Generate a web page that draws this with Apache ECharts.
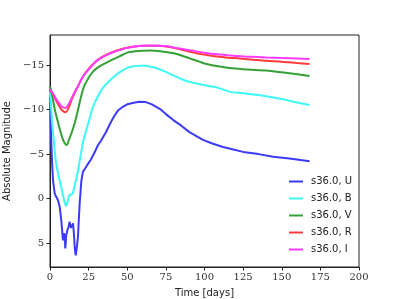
<!DOCTYPE html>
<html><head><meta charset="utf-8">
<script src="https://cdn.jsdelivr.net/npm/echarts@6/dist/echarts.min.js"></script>
<style>html,body{margin:0;padding:0;background:#fff}#c{width:399px;height:299px}</style>
</head><body><div id="c"></div>
<script>
var seriesNames = ['s36.0, U','s36.0, B','s36.0, V','s36.0, R','s36.0, I'];
var xTicks = [0,25,50,75,100,125,150,175,200];
var yTicks = [-15,-10,-5,0,5];

var daysU = [0,0.5,1,1.5,2,3,4,5.2,6.3,7.3,8.4,9,9.5,9.9,10.5,11.2,12,12.7,13.5,14.2,14.9,15.5,16,16.6,17.3,18.1,18.7,19.2,20.3,21.3,22.4,23.5,24.6,26.5,28.9,31,33,36,39.7,42,44,47.4,50,55,58,62,66,71,75,80,85,90,95,99,105,112,118,125,135,144.5,155,168];
var magU = [-12.0,-8.5,-5.5,-3.5,-2.0,-0.6,-0.2,0.2,0.95,2.45,4.7,3.9,4.2,5.6,4.2,3.6,3.2,2.6,3.3,3.2,2.8,4.0,5.5,6.4,5.6,4.3,2.2,0.56,-2.0,-3.0,-3.3,-3.5,-3.9,-4.4,-5.2,-6.0,-6.5,-7.4,-8.7,-9.4,-9.9,-10.35,-10.6,-10.8,-10.9,-10.85,-10.6,-10.1,-9.5,-8.8,-8.2,-7.5,-7.0,-6.6,-6.2,-5.8,-5.55,-5.25,-5.0,-4.7,-4.5,-4.2];

var daysB = [0,1,2,3,4,5.5,7,8.5,10.4,11.5,12.7,14.5,16,18,19.4,21.6,24.8,28,31.3,34.5,40,45,50,55,58.3,62,66,70,75,80,85,90,95,100,105,110,116.5,125,138,150,160,168];
var magB = [-12.0,-9.5,-7.3,-5.5,-3.9,-2.6,-1.5,-0.3,0.83,0.3,-0.4,-0.5,-1.5,-3.0,-4.4,-6.5,-8.5,-10.4,-11.6,-12.5,-13.5,-14.2,-14.7,-14.9,-14.95,-14.93,-14.8,-14.6,-14.25,-13.85,-13.45,-13.15,-12.95,-12.75,-12.6,-12.4,-12.0,-11.85,-11.57,-11.2,-10.8,-10.52];

var daysV = [0,1,3,5,7,9,10.8,12,14,16,18,20,22,25,28,31,35,40,45,50,55,60,65,70,75,80,85,90,95,100,105,110,115,120,125,130,140,150,160,168];
var magV = [-12.6,-12.0,-10.1,-8.7,-7.4,-6.4,-6.0,-6.5,-7.4,-8.5,-9.9,-11.4,-12.6,-13.6,-14.3,-14.75,-15.15,-15.6,-16.0,-16.42,-16.57,-16.64,-16.65,-16.6,-16.5,-16.35,-16.1,-15.8,-15.5,-15.2,-15.0,-14.85,-14.72,-14.62,-14.55,-14.5,-14.4,-14.2,-13.98,-13.79];

var daysR = [0,2,4,6,8,10,12,14,16,18,20,22,25,28,31,35,40,45,50,55,60,65,70,75,80,85,90,95,100,105,110,115,120,125,130,140,150,160,168];
var magR = [-12.2,-11.7,-11.0,-10.4,-9.9,-9.7,-10.2,-11.1,-11.9,-12.6,-13.3,-13.9,-14.6,-15.15,-15.6,-16.05,-16.45,-16.75,-16.97,-17.1,-17.18,-17.2,-17.18,-17.1,-16.95,-16.75,-16.55,-16.35,-16.2,-16.05,-15.95,-15.85,-15.8,-15.72,-15.65,-15.5,-15.4,-15.25,-15.14];

var daysI = [0,2,4,6,8,10,12,14,16,18,20,22,25,28,31,35,40,45,50,55,60,65,70,75,80,85,90,95,100,105,110,115,120,125,130,140,150,160,168];
var magI = [-12.3,-11.8,-11.2,-10.7,-10.3,-10.2,-10.6,-11.3,-12.0,-12.6,-13.3,-13.9,-14.5,-15.1,-15.6,-16.0,-16.4,-16.7,-16.95,-17.1,-17.2,-17.22,-17.2,-17.15,-17.0,-16.85,-16.7,-16.55,-16.4,-16.3,-16.2,-16.12,-16.05,-15.98,-15.95,-15.88,-15.82,-15.76,-15.7];

function pairs(d, m){ return d.map(function(x,i){ return [x, m[i]]; }); }
var colors = ['#3b3bf7','#3ff8f8','#35a035','#ff3c3c','#ff3cff'];
var allDays = [daysU, daysB, daysV, daysR, daysI];
var allMags = [magU, magB, magV, magR, magI];

var chart = echarts.init(document.getElementById('c'), null, {renderer:'canvas'});
var serif = 'DejaVu Serif';
var sans = 'DejaVu Sans';
chart.setOption({
  animation: false,
  color: colors,
  grid: {left:50, right:40, top:35, bottom:32, show:true, borderColor:'#222', borderWidth:1, backgroundColor:'transparent', containLabel:false, outerBoundsMode:'none'},
  legend: {
    orient:'vertical', left:284, top:171, icon:'rect', itemWidth:14, itemHeight:2, itemGap:6,
    data: seriesNames,
    textStyle:{fontFamily:sans, fontSize:10, color:'#222', padding:[0,0,0,3], lineHeight:11}
  },
  xAxis: {
    type:'value', min:0, max:200, interval:25,
    name:'Time [days]', nameLocation:'middle', nameGap:21,
    nameTextStyle:{fontFamily:sans, fontSize:10, color:'#222'},
    axisLine:{show:true, onZero:false, lineStyle:{color:'#222'}},
    axisTick:{show:true, length:3.5, lineStyle:{color:'#222'}},
    axisLabel:{fontFamily:serif, fontSize:10, color:'#333', margin:5},
    splitLine:{show:false}
  },
  yAxis: {
    type:'value', inverse:true, min:-18.4, max:7.7,
    name:'Absolute Magnitude', nameLocation:'middle', nameGap:31,
    nameTextStyle:{fontFamily:sans, fontSize:10, color:'#222'},
    axisLine:{show:true, onZero:false, lineStyle:{color:'#222'}},
    axisTick:{show:true, length:3.5, customValues:yTicks, lineStyle:{color:'#222'}},
    axisLabel:{fontFamily:serif, fontSize:10, color:'#333', margin:6, customValues:yTicks,
      formatter:function(v){ return String(v).replace('-', '\u2212'); }},
    splitLine:{show:false}
  },
  series: seriesNames.map(function(n,i){
    return {
      name:n, type:'line', data:pairs(allDays[i], allMags[i]),
      showSymbol:false, symbol:'none', smooth: i===0 ? false : 0.3,
      lineStyle:{width:2, color:colors[i]}, itemStyle:{color:colors[i]}
    };
  })
});
</script></body></html>
